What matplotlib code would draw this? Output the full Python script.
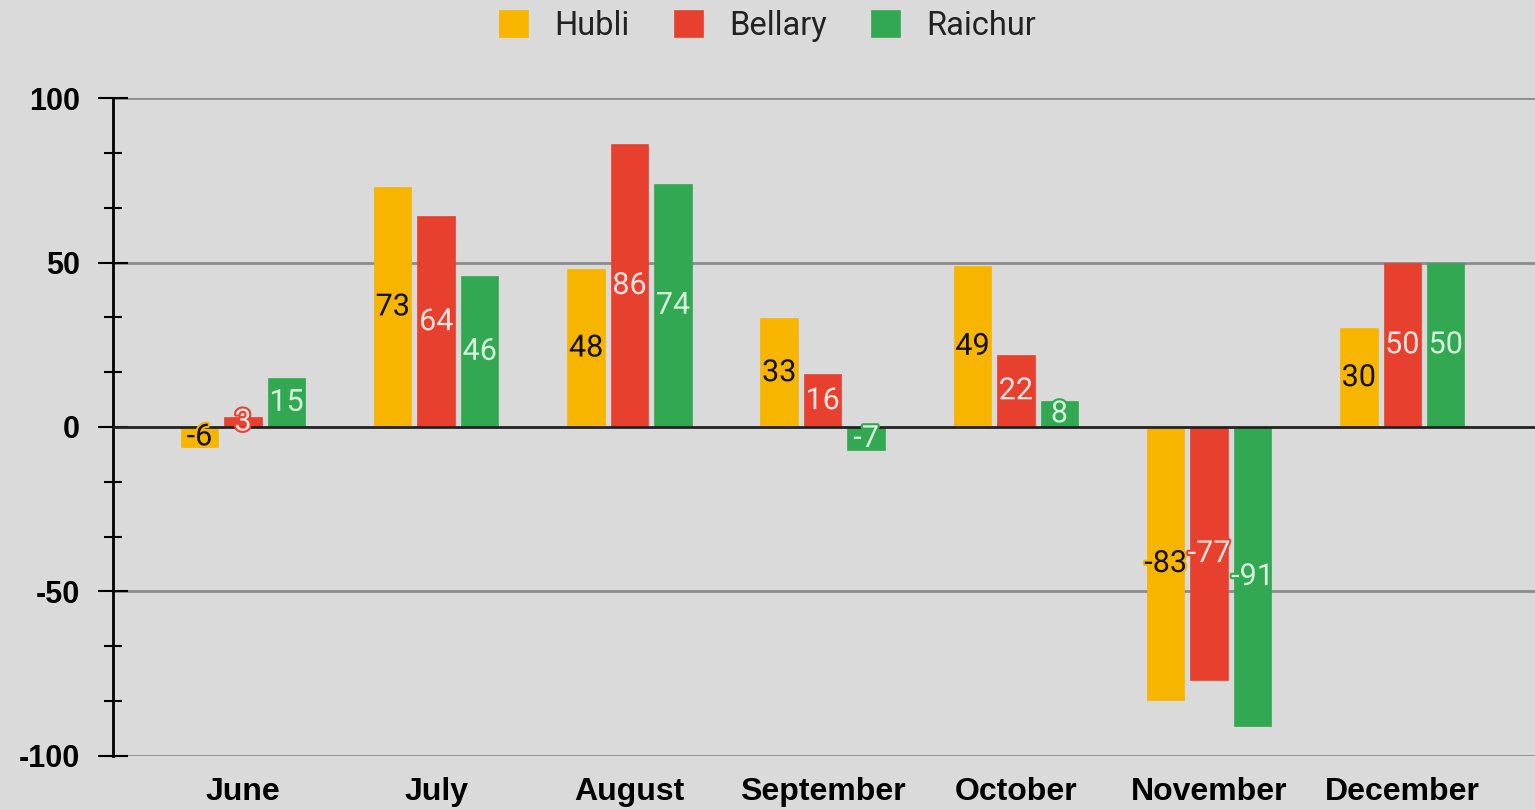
import matplotlib
matplotlib.use("Agg")
import matplotlib.pyplot as plt
import matplotlib.patheffects as pe
from matplotlib.ticker import MultipleLocator
import numpy as np

months = ["June", "July", "August", "September", "October", "November", "December"]
series = ["Hubli", "Bellary", "Raichur"]
hubli = [-6, 73, 48, 33, 49, -83, 30]
bellary = [3, 64, 86, 16, 22, -77, 50]
raichur = [15, 46, 74, -7, 8, -91, 50]

colors = ["#f7b500", "#e8402f", "#33a852"]
label_colors = ["#111111", "#fde3df", "#d6f2dc"]

BG = "#dadada"

fig = plt.figure(figsize=(15.35, 8.10), dpi=100, facecolor=BG)
ax = fig.add_axes([0.0736, 0.0667, 0.9264, 0.8123])
ax.set_facecolor(BG)

x = np.arange(len(months))
width = 0.194
step = 0.225

for i, (name, vals) in enumerate(zip(series, [hubli, bellary, raichur])):
    pos = x + (i - 1) * step
    ax.bar(pos, vals, width, color=colors[i], label=name, zorder=3,
           edgecolor=colors[i], linewidth=0.5)
    for px, v in zip(pos, vals):
        ax.text(px, v / 2, str(v), ha="center", va="center", fontsize=22,
                family="Roboto", color=label_colors[i], zorder=5,
                path_effects=[pe.withStroke(linewidth=3, foreground=colors[i])])

ax.set_xlim(-0.673, 6.687)
ax.set_ylim(-100, 100)

ax.yaxis.set_minor_locator(MultipleLocator(50 / 3))
ax.set_yticks([-100, -50, 0, 50, 100])
ax.set_yticklabels(["-100", "-50", "0", "50", "100"])
ax.tick_params(axis="y", which="major", direction="inout", length=22, width=1.5,
               pad=13, labelsize=22, colors="black")
ax.tick_params(axis="y", which="minor", direction="inout", length=13, width=1.5)
for lab in ax.get_yticklabels():
    lab.set_family("Liberation Sans")
    lab.set_fontweight("bold")

ax.set_xticks(x)
ax.set_xticklabels(months)
ax.tick_params(axis="x", length=0, pad=15, labelsize=23)
for lab in ax.get_xticklabels():
    lab.set_family("Liberation Sans")
    lab.set_fontweight("bold")

for y in [-100, -50, 50, 100]:
    ax.axhline(y, color="#8c8c8c", linewidth=2, zorder=1)
ax.axhline(0, color="#222222", linewidth=2, zorder=4)

for s in ["top", "right", "bottom"]:
    ax.spines[s].set_visible(False)
ax.spines["left"].set_linewidth(2)
ax.spines["left"].set_color("black")

leg = fig.legend(loc="center", bbox_to_anchor=(0.5, 0.968), ncol=3,
                 frameon=False, prop={"family": "Roboto", "size": 23.5},
                 handlelength=0.9, handleheight=0.9, handletextpad=0.8,
                 columnspacing=1.35)
for t in leg.get_texts():
    t.set_color("#222222")

fig.savefig("out.png", dpi=100, facecolor=BG)
